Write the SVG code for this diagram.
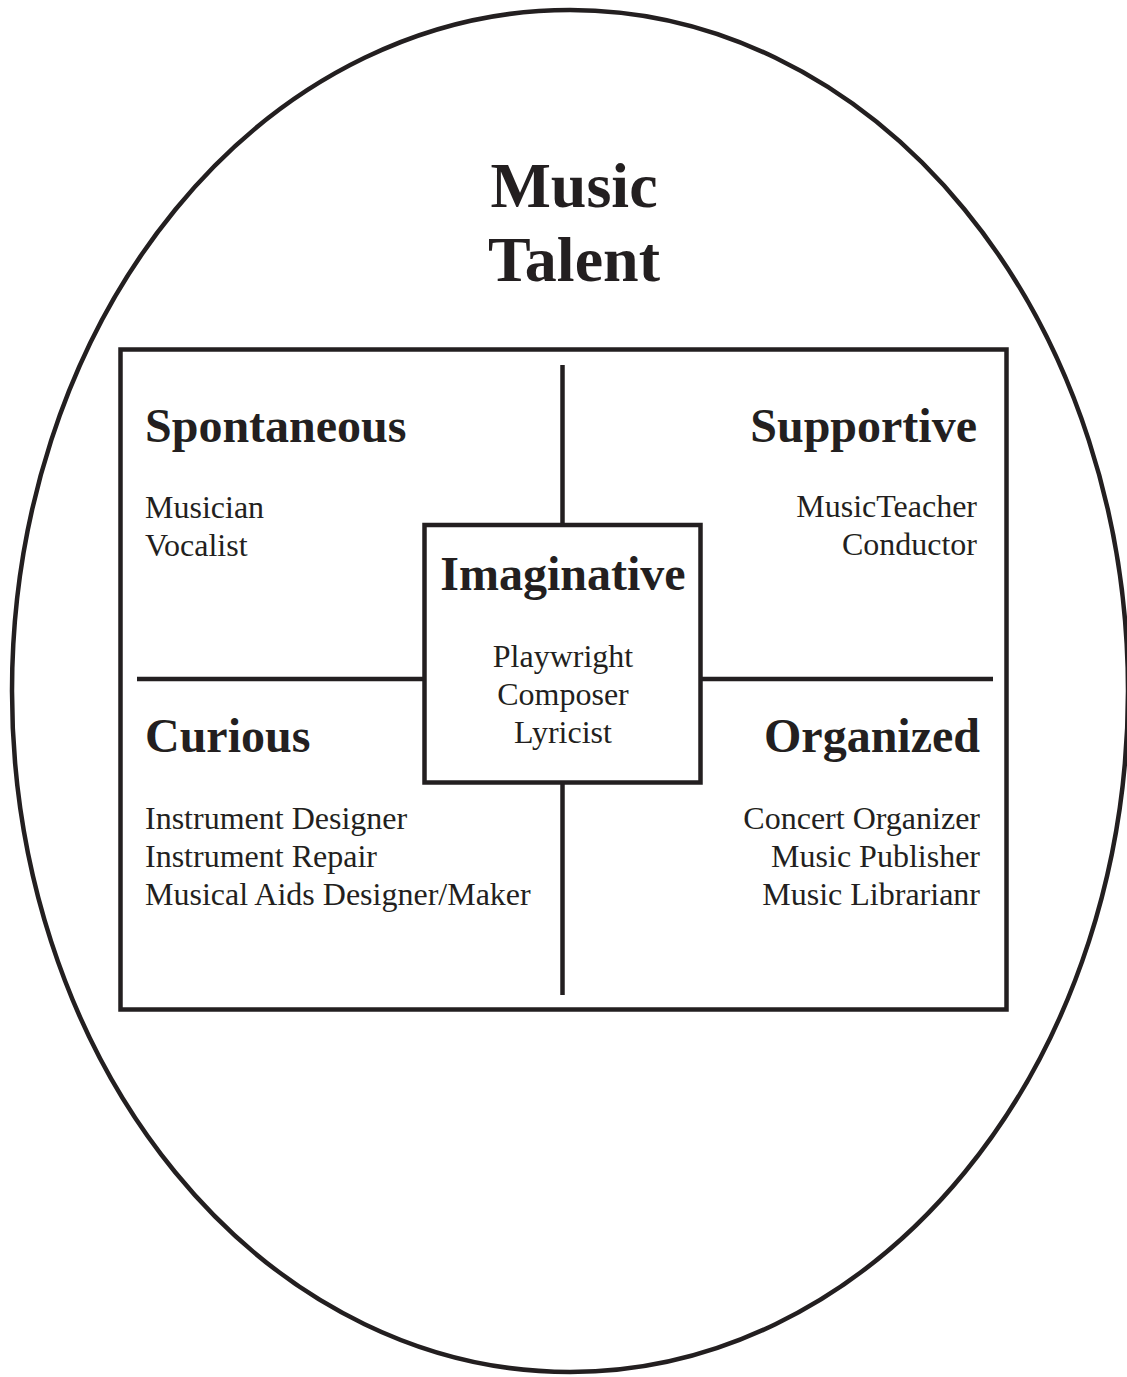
<svg xmlns="http://www.w3.org/2000/svg" width="1127" height="1377" viewBox="0 0 1127 1377">
  <style>
    .line { stroke: #231f20; stroke-width: 4.5; fill: none; }
    .box { stroke: #231f20; stroke-width: 4.5; fill: #ffffff; }
    .head { font-family: "Liberation Serif", "Times New Roman", serif; font-weight: bold; font-size: 48px; fill: #231f20; }
    .title { font-family: "Liberation Serif", "Times New Roman", serif; font-weight: bold; font-size: 64px; fill: #231f20; }
    .item { font-family: "Liberation Serif", "Times New Roman", serif; font-size: 32px; fill: #231f20; }
  </style>
  <rect width="1127" height="1377" fill="#ffffff"/>

  <!-- outer ellipse and title -->
  <g id="music-talent">
    <ellipse class="line" cx="570" cy="691" rx="558" ry="681" stroke-width="5"/>
    <text class="title" x="574" y="207" text-anchor="middle">Music</text>
    <text class="title" x="574" y="281" text-anchor="middle">Talent</text>
  </g>

  <!-- frame -->
  <g id="frame">
    <rect class="line" x="120.5" y="349.5" width="886" height="660"/>
  </g>

  <!-- dividing lines -->
  <g id="connectors">
    <line class="line" x1="562.5" y1="365" x2="562.5" y2="525"/>
    <line class="line" x1="562.5" y1="782" x2="562.5" y2="995"/>
    <line class="line" x1="137" y1="679" x2="424" y2="679"/>
    <line class="line" x1="700" y1="679" x2="993" y2="679"/>
  </g>

  <g id="spontaneous">
    <text class="head" x="145" y="442">Spontaneous</text>
    <text class="item" x="145" y="518">Musician</text>
    <text class="item" x="145" y="556">Vocalist</text>
  </g>

  <g id="supportive">
    <text class="head" x="977" y="442" text-anchor="end">Supportive</text>
    <text class="item" x="977" y="517" text-anchor="end">MusicTeacher</text>
    <text class="item" x="977" y="555" text-anchor="end">Conductor</text>
  </g>

  <g id="curious">
    <text class="head" x="145" y="752">Curious</text>
    <text class="item" x="145" y="829">Instrument Designer</text>
    <text class="item" x="145" y="867">Instrument Repair</text>
    <text class="item" x="145" y="905">Musical Aids Designer/Maker</text>
  </g>

  <g id="organized">
    <text class="head" x="980" y="752" text-anchor="end">Organized</text>
    <text class="item" x="980" y="829" text-anchor="end">Concert Organizer</text>
    <text class="item" x="980" y="867" text-anchor="end">Music Publisher</text>
    <text class="item" x="980" y="905" text-anchor="end">Music Librarianr</text>
  </g>

  <g id="imaginative">
    <rect class="box" x="424.5" y="525" width="276" height="257.5"/>
    <text class="head" x="563" y="590" text-anchor="middle">Imaginative</text>
    <text class="item" x="563" y="667" text-anchor="middle">Playwright</text>
    <text class="item" x="563" y="705" text-anchor="middle">Composer</text>
    <text class="item" x="563" y="743" text-anchor="middle">Lyricist</text>
  </g>
</svg>
